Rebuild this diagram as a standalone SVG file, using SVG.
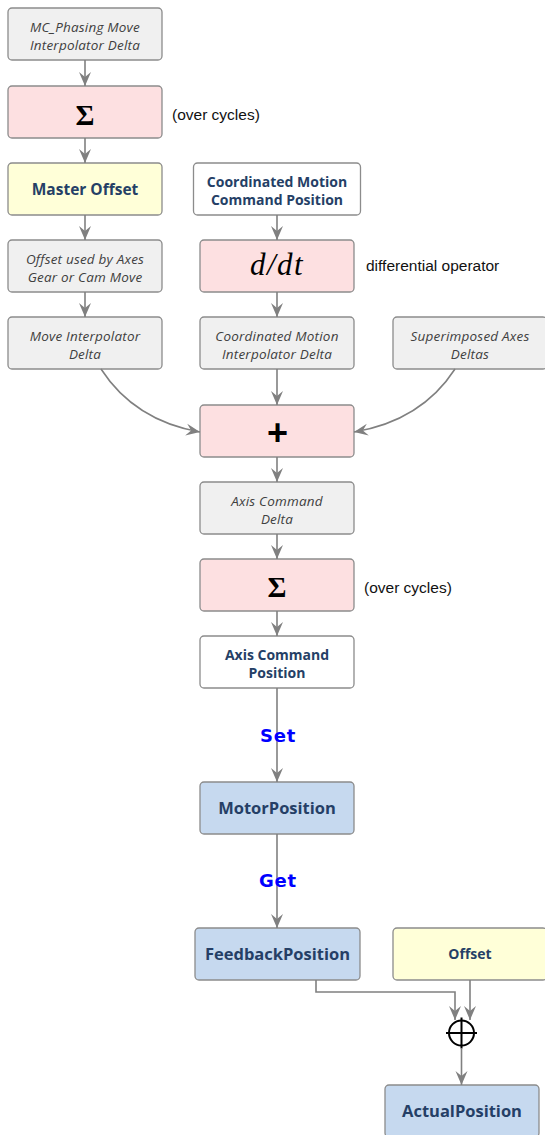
<svg xmlns="http://www.w3.org/2000/svg" width="545" height="1135" viewBox="0 0 545 1135">
<defs>
<marker id="ah" markerUnits="userSpaceOnUse" markerWidth="15" markerHeight="13" refX="14" refY="6.5" orient="auto">
<path d="M0,0.5 L14,6.5 L0,12.5 L5,6.5 Z" fill="#808080"/>
</marker>
<style>
.b{stroke:#8c8c8c;stroke-width:1.3}
.g{fill:#f0f0f0}.p{fill:#fde0e1}.y{fill:#ffffd8}.w{fill:#ffffff}.u{fill:#c6d9ef}
.it{font-family:"Open Sans","Noto Sans",sans-serif;font-style:italic;font-size:13.5px;letter-spacing:0.2px;fill:#404040;text-anchor:middle}
.bd{font-family:"Open Sans","Noto Sans",sans-serif;font-weight:bold;font-size:14px;fill:#253f66;text-anchor:middle}
.bb{font-family:"Open Sans","Noto Sans",sans-serif;font-weight:bold;font-size:16.5px;fill:#253f66;text-anchor:middle}
.note{font-family:"Liberation Sans",Arial,sans-serif;font-size:15.5px;fill:#111}
.sig{font-family:"Liberation Serif","Times New Roman",serif;font-weight:bold;font-size:29px;fill:#000;text-anchor:middle}
.sg{font-family:"DejaVu Sans",Verdana,sans-serif;font-weight:bold;font-size:18px;fill:#0000ff;text-anchor:middle;letter-spacing:0.8px}
.c{fill:none;stroke:#808080;stroke-width:1.6;marker-end:url(#ah)}
</style>
</defs>

<g id="n_phasing"><rect class="b g" x="8" y="8" width="154" height="52" rx="4"/><text class="it" x="85" y="32">MC_Phasing Move</text><text class="it" x="85" y="50">Interpolator Delta</text></g>
<g id="n_sum1"><rect class="b p" x="8" y="86" width="154" height="52" rx="4"/><text class="sig" x="85" y="124.5">Σ</text></g>
<text class="note" x="172" y="120">(over cycles)</text>
<g id="n_master"><rect class="b y" x="8" y="163" width="154" height="52" rx="4"/><text class="bd" x="85" y="194.5" style="font-size:15.5px">Master Offset</text></g>
<g id="n_cmcp"><rect class="b w" x="193.5" y="163" width="167" height="52" rx="4"/><text class="bd" x="277" y="186.5">Coordinated Motion</text><text class="bd" x="277" y="205">Command Position</text></g>
<g id="n_offsetused"><rect class="b g" x="8" y="240" width="154" height="52" rx="4"/><text class="it" x="85" y="263.5">Offset used by Axes</text><text class="it" x="85" y="282">Gear or Cam Move</text></g>
<g id="n_ddt"><rect class="b p" x="200" y="240" width="154" height="52" rx="4"/><text x="277" y="275" font-family="'Liberation Serif','Times New Roman',serif" font-style="italic" font-size="31" letter-spacing="1.5" text-anchor="middle" fill="#000">d/dt</text></g>
<text class="note" x="366" y="271">differential operator</text>
<g id="n_moveinterp"><rect class="b g" x="8" y="317" width="154" height="52" rx="4"/><text class="it" x="85" y="340.5">Move Interpolator</text><text class="it" x="85" y="359">Delta</text></g>
<g id="n_cmid"><rect class="b g" x="200" y="317" width="154" height="52" rx="4"/><text class="it" x="277" y="340.5">Coordinated Motion</text><text class="it" x="277" y="359">Interpolator Delta</text></g>
<g id="n_super"><rect class="b g" x="393" y="317" width="154" height="52" rx="4"/><text class="it" x="470" y="340.5">Superimposed Axes</text><text class="it" x="470" y="359">Deltas</text></g>
<g id="n_plus"><rect class="b p" x="200" y="405" width="154" height="52" rx="4"/><text x="277.5" y="444.5" font-family="'Liberation Sans',Arial,sans-serif" font-weight="bold" font-size="36" text-anchor="middle" fill="#000">+</text></g>
<g id="n_acd"><rect class="b g" x="200" y="482" width="154" height="52" rx="4"/><text class="it" x="277" y="505.5">Axis Command</text><text class="it" x="277" y="524">Delta</text></g>
<g id="n_sum2"><rect class="b p" x="200" y="559" width="154" height="52" rx="4"/><text class="sig" x="277" y="597">Σ</text></g>
<text class="note" x="364" y="593">(over cycles)</text>
<g id="n_acp"><rect class="b w" x="200" y="636" width="154" height="52" rx="4"/><text class="bd" x="277" y="659.5">Axis Command</text><text class="bd" x="277" y="678">Position</text></g>
<g id="n_motor"><rect class="b u" x="200" y="782" width="154" height="52" rx="4"/><text class="bb" x="277" y="814">MotorPosition</text></g>
<g id="n_feedback"><rect class="b u" x="195" y="928" width="165" height="52" rx="4"/><text class="bb" x="277.5" y="960">FeedbackPosition</text></g>
<g id="n_offset"><rect class="b y" x="393" y="928" width="154" height="52" rx="4"/><text class="bd" x="470" y="959">Offset</text></g>
<g id="n_sum3"><circle cx="461.5" cy="1033" r="12.5" fill="none" stroke="#000" stroke-width="2"/><path d="M461.5,1017.5 V1048.5 M446,1033 H477" stroke="#000" stroke-width="2"/></g>
<g id="n_actual"><rect class="b u" x="385" y="1085" width="154" height="52" rx="4"/><text class="bb" x="462" y="1117">ActualPosition</text></g>

<g id="connectors">
<path class="c" d="M85,60 V86"/>
<path class="c" d="M85,138 V163"/>
<path class="c" d="M85,215 V240"/>
<path class="c" d="M85,292 V317"/>
<path class="c" d="M277,215 V240"/>
<path class="c" d="M277,292 V317"/>
<path class="c" d="M277,369 V405"/>
<path class="c" d="M101,369 C125,406 160,425 200,432"/>
<path class="c" d="M455,369 C431,406 396,425 354,432"/>
<path class="c" d="M277,457 V482"/>
<path class="c" d="M277,534 V559"/>
<path class="c" d="M277,611 V636"/>
<path class="c" d="M277,688 V782"/>
<path class="c" d="M277,834 V928"/>
<path class="c" d="M316,980 V992 H455 V1020"/>
<path class="c" d="M470,980 V1020"/>
<path class="c" d="M461.5,1048.5 V1085"/>
<text class="sg" x="278" y="742">Set</text>
<text class="sg" x="278" y="887">Get</text>
</g>
</svg>
